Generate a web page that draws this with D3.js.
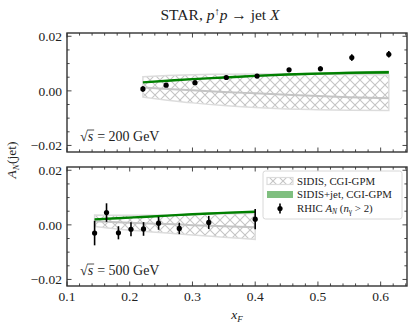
<!DOCTYPE html>
<html>
<head>
<meta charset="utf-8">
<script src="https://cdn.jsdelivr.net/npm/d3@7"></script>
<style>
  html, body { margin: 0; padding: 0; background: #fff; }
  svg { display: block; }
  text { font-family: "Liberation Serif", "DejaVu Serif", serif; fill: #222; }
</style>
</head>
<body>
<svg id="chart" width="415" height="332"></svg>
<script>
// ---- data ----
const xTicks = [0.1, 0.2, 0.3, 0.4, 0.5, 0.6];
const yTicks = [-0.02, 0.0, 0.02];

// sqrt(s) = 200 GeV
const xTop = [0.221, 0.258, 0.304, 0.354, 0.403, 0.454, 0.504, 0.554, 0.613];
const aTop = [0.0007, 0.0021, 0.0030, 0.0049, 0.0054, 0.0077, 0.0081, 0.0122, 0.0134];
const eTop = [0.0010, 0.0006, 0.0006, 0.0006, 0.0006, 0.0007, 0.0009, 0.0012, 0.0012];

const gridTop = [0.221, 0.26, 0.3, 0.35, 0.4, 0.45, 0.5, 0.55, 0.613];
const greenTop = [0.0031, 0.0037, 0.0043, 0.0049, 0.0055, 0.0060, 0.0063, 0.0066, 0.0068];
const greenTopLo = [0.0029, 0.0035, 0.0041, 0.0046, 0.0052, 0.0056, 0.0059, 0.0061, 0.0062];
const greenTopHi = [0.0033, 0.0039, 0.0045, 0.0051, 0.0058, 0.0063, 0.0067, 0.0071, 0.0074];
const sidisTopHi = [0.0052, 0.0056, 0.0059, 0.0061, 0.0062, 0.0062, 0.0061, 0.0060, 0.0058];
const sidisTopLo = [-0.0023, -0.0034, -0.0044, -0.0054, -0.0061, -0.0066, -0.0069, -0.0071, -0.0072];
const sidisTopMid = [0.0012, 0.0007, 0.0002, -0.0004, -0.0009, -0.0014, -0.0019, -0.0023, -0.0027];

// sqrt(s) = 500 GeV
const xBot = [0.144, 0.163, 0.182, 0.202, 0.222, 0.246, 0.279, 0.326, 0.400];
const aBot = [-0.0030, 0.0045, -0.0029, -0.0016, -0.0015, 0.0006, -0.0013, 0.0009, 0.0021];
const eBot = [0.0045, 0.0034, 0.0024, 0.0026, 0.0025, 0.0024, 0.0021, 0.0024, 0.0037];

const gridBot = [0.144, 0.18, 0.22, 0.26, 0.3, 0.35, 0.4];
const greenBot = [0.0020, 0.0024, 0.0029, 0.0034, 0.0039, 0.0044, 0.0048];
const greenBotLo = [0.0018, 0.0022, 0.0027, 0.0032, 0.0036, 0.0041, 0.0045];
const greenBotHi = [0.0022, 0.0026, 0.0031, 0.0036, 0.0042, 0.0047, 0.0051];
const sidisBotHi = [0.0036, 0.0035, 0.0035, 0.0036, 0.0038, 0.0040, 0.0043];
const sidisBotLo = [-0.0006, -0.0015, -0.0023, -0.0030, -0.0037, -0.0045, -0.0053];
const sidisBotMid = [0.0013, 0.0010, 0.0006, 0.0003, -0.0001, -0.0005, -0.0009];

const legendLabels = ['SIDIS, CGI-GPM', 'SIDIS+jet, CGI-GPM', 'RHIC'];

// ---- layout ----
const svg = d3.select('#chart');
const L = 67, R = 407;
const panels = [
  { top: 33, bottom: 152, label: '200', xs: xTop, ys: aTop, es: eTop, grid: gridTop,
    g: greenTop, gLo: greenTopLo, gHi: greenTopHi, sHi: sidisTopHi, sLo: sidisTopLo, sMid: sidisTopMid },
  { top: 167, bottom: 286, label: '500', xs: xBot, ys: aBot, es: eBot, grid: gridBot,
    g: greenBot, gLo: greenBotLo, gHi: greenBotHi, sHi: sidisBotHi, sLo: sidisBotLo, sMid: sidisBotMid }
];

const x = d3.scaleLinear().domain([0.1, 0.642]).range([L, R]);

const defs = svg.append('defs');
const hatch = defs.append('pattern')
  .attr('id', 'hatch').attr('patternUnits', 'userSpaceOnUse')
  .attr('width', 10).attr('height', 10);
hatch.append('path').attr('d', 'M0,0L10,10M10,0L0,10M-5,5L5,15M5,-5L15,5M-5,5L5,-5M5,15L15,5')
  .attr('stroke', '#c4c4c4').attr('stroke-width', 1.1).attr('fill', 'none');

panels.forEach((p, pi) => {
  const y = d3.scaleLinear().domain([-0.0224, 0.0212]).range([p.bottom, p.top]);
  const g = svg.append('g');

  const clipId = 'clip' + pi;
  defs.append('clipPath').attr('id', clipId)
    .append('rect').attr('x', L).attr('y', p.top).attr('width', R - L).attr('height', p.bottom - p.top);
  const plot = g.append('g').attr('clip-path', `url(#${clipId})`);

  // SIDIS hatched band
  const band = p.grid.map((xv, i) => ({ x: xv, lo: p.sLo[i], hi: p.sHi[i] }));
  const area = d3.area().x(d => x(d.x)).y0(d => y(d.lo)).y1(d => y(d.hi)).curve(d3.curveMonotoneX);
  plot.append('path').datum(band).attr('d', area)
    .attr('fill', 'url(#hatch)').attr('stroke', '#dcdcdc').attr('stroke-width', 1.5);
  const line = d3.line().x(d => x(d.x)).y(d => y(d.v)).curve(d3.curveMonotoneX);
  plot.append('path').datum(p.grid.map((xv, i) => ({ x: xv, v: p.sMid[i] }))).attr('d', line)
    .attr('fill', 'none').attr('stroke', '#c4c4c4').attr('stroke-width', 2);

  // SIDIS+jet green band
  const gband = p.grid.map((xv, i) => ({ x: xv, lo: p.gLo[i], hi: p.gHi[i] }));
  plot.append('path').datum(gband).attr('d', area)
    .attr('fill', 'green').attr('fill-opacity', 0.5).attr('stroke', 'none');
  plot.append('path').datum(p.grid.map((xv, i) => ({ x: xv, v: p.g[i] }))).attr('d', line)
    .attr('fill', 'none').attr('stroke', 'green').attr('stroke-width', 2.4);

  // data points with error bars
  const pts = p.xs.map((xv, i) => ({ x: xv, v: p.ys[i], e: p.es[i] }));
  plot.selectAll('.eb').data(pts).join('line')
    .attr('x1', d => x(d.x)).attr('x2', d => x(d.x))
    .attr('y1', d => y(d.v - d.e)).attr('y2', d => y(d.v + d.e))
    .attr('stroke', '#000').attr('stroke-width', 1.6);
  plot.selectAll('.pt').data(pts).join('circle')
    .attr('cx', d => x(d.x)).attr('cy', d => y(d.v)).attr('r', 2.6).attr('fill', '#000');

  // ticks (inward, all sides)
  const tk = g.append('g').attr('stroke', '#333').attr('stroke-width', 0.9);
  const xMinor = d3.range(0.1, 0.6425, 0.02);
  xMinor.forEach(v => {
    const major = xTicks.some(t => Math.abs(t - v) < 1e-6);
    const len = major ? 4.5 : 2.6;
    tk.append('line').attr('x1', x(v)).attr('x2', x(v)).attr('y1', p.bottom).attr('y2', p.bottom - len);
    tk.append('line').attr('x1', x(v)).attr('x2', x(v)).attr('y1', p.top).attr('y2', p.top + len);
  });
  const yMinor = d3.range(-0.02, 0.0201, 0.005);
  yMinor.forEach(v => {
    const major = yTicks.some(t => Math.abs(t - v) < 1e-6);
    const len = major ? 4.5 : 2.6;
    tk.append('line').attr('x1', L).attr('x2', L + len).attr('y1', y(v)).attr('y2', y(v));
    tk.append('line').attr('x1', R).attr('x2', R - len).attr('y1', y(v)).attr('y2', y(v));
  });

  // frame
  g.append('rect').attr('x', L).attr('y', p.top).attr('width', R - L).attr('height', p.bottom - p.top)
    .attr('fill', 'none').attr('stroke', '#333').attr('stroke-width', 1.4);

  // y tick labels
  g.selectAll('.yl').data(yTicks).join('text')
    .attr('x', L - 5).attr('y', d => y(d)).attr('dy', '0.35em')
    .attr('text-anchor', 'end').attr('font-size', 13.5)
    .text(d => (d < 0 ? '\u2212' : '') + Math.abs(d).toFixed(2));

  // sqrt(s) annotation
  const ax = 80, ay = p.bottom - 11;
  const t1 = g.append('text').attr('x', ax).attr('y', ay).attr('font-size', 14).text('\u221A');
  const w1 = t1.node().getComputedTextLength();
  const t2 = g.append('text').attr('x', ax + w1).attr('y', ay).attr('font-size', 14)
    .attr('font-style', 'italic').text('s');
  const w2 = t2.node().getComputedTextLength();
  g.append('line').attr('x1', ax + w1 - 0.5).attr('x2', ax + w1 + w2 + 1)
    .attr('y1', ay - 11).attr('y2', ay - 11).attr('stroke', '#222').attr('stroke-width', 0.8);
  g.append('text').attr('x', ax + w1 + w2 + 4).attr('y', ay).attr('font-size', 14)
    .text(`= ${p.label} GeV`);

  if (pi === 1) {
    // x tick labels
    g.selectAll('.xl').data(xTicks).join('text')
      .attr('x', d => x(d)).attr('y', p.bottom + 15)
      .attr('text-anchor', 'middle').attr('font-size', 13.5)
      .text(d => d.toFixed(1));

    // legend
    const lg = g.append('g').attr('transform', 'translate(263,171)');
    lg.append('rect').attr('width', 139).attr('height', 48).attr('rx', 2.5)
      .attr('fill', '#fff').attr('fill-opacity', 0.85).attr('stroke', '#d8d8d8').attr('stroke-width', 1);
    const rows = [10, 23.5, 37.5];
    lg.append('rect').attr('x', 4).attr('y', rows[0] - 3.5).attr('width', 26).attr('height', 7)
      .attr('fill', 'url(#hatch)').attr('stroke', '#dcdcdc').attr('stroke-width', 1.2);
    lg.append('rect').attr('x', 4).attr('y', rows[1] - 3.5).attr('width', 26).attr('height', 7)
      .attr('fill', 'green').attr('fill-opacity', 0.5);
    lg.append('line').attr('x1', 17).attr('x2', 17).attr('y1', rows[2] - 5).attr('y2', rows[2] + 5)
      .attr('stroke', '#000').attr('stroke-width', 1.6);
    lg.append('circle').attr('cx', 17).attr('cy', rows[2]).attr('r', 2.6).attr('fill', '#000');
    lg.append('text').attr('x', 34).attr('y', rows[0] + 3.5).attr('font-size', 10.8).text(legendLabels[0]);
    lg.append('text').attr('x', 34).attr('y', rows[1] + 3.5).attr('font-size', 10.8).text(legendLabels[1]);
    const t = lg.append('text').attr('x', 34).attr('y', rows[2] + 3.5).attr('font-size', 10.8);
    t.append('tspan').text(legendLabels[2] + ' ');
    t.append('tspan').attr('font-style', 'italic').text('A');
    t.append('tspan').attr('font-style', 'italic').attr('font-size', 7.5).attr('dy', 2).text('N');
    t.append('tspan').attr('dy', -2).text(' (');
    t.append('tspan').attr('font-style', 'italic').text('n');
    t.append('tspan').attr('font-size', 7.5).attr('dy', 2).text('\u03B3');
    t.append('tspan').attr('dy', -2).text(' > 2)');
  }
});

// title
const title = svg.append('text').attr('x', 220).attr('y', 20).attr('text-anchor', 'middle').attr('font-size', 15.5);
title.append('tspan').text('STAR, ');
title.append('tspan').attr('font-style', 'italic').text('p');
title.append('tspan').attr('font-size', 10.5).attr('dy', -5.5).text('\u2191');
title.append('tspan').attr('dy', 5.5).attr('font-style', 'italic').text('p');
title.append('tspan').text(' \u2192 jet ');
title.append('tspan').attr('font-style', 'italic').text('X');

// x axis label
const xl = svg.append('text').attr('x', (L + R) / 2).attr('y', 319).attr('text-anchor', 'middle').attr('font-size', 13.5);
xl.append('tspan').attr('font-style', 'italic').text('x');
xl.append('tspan').attr('font-style', 'italic').attr('font-size', 9).attr('dy', 3).text('F');

// y axis label
const yl = svg.append('text').attr('transform', 'translate(16,160) rotate(-90)')
  .attr('text-anchor', 'middle').attr('font-size', 13.5);
yl.append('tspan').attr('font-style', 'italic').text('A');
yl.append('tspan').attr('font-style', 'italic').attr('font-size', 9).attr('dy', 3).text('N');
yl.append('tspan').attr('dy', -3).text('(jet)');
</script>
</body>
</html>
